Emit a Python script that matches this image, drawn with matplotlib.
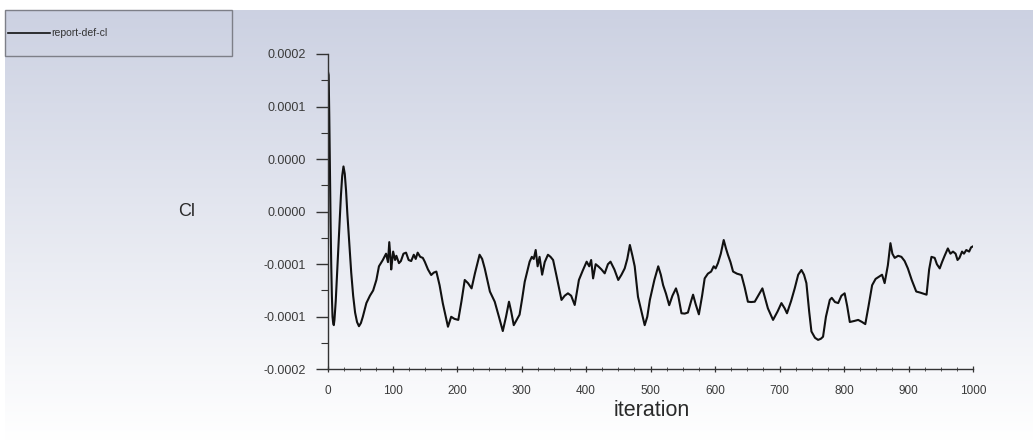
import numpy as np
import matplotlib
matplotlib.use("Agg")
import matplotlib.pyplot as plt
from matplotlib.patches import Rectangle
from matplotlib.lines import Line2D
from matplotlib.ticker import FixedLocator, FixedFormatter, MultipleLocator

# ---- data (values in units of 1e-5) ----
iterations = [0, 1, 2, 3, 4, 5, 6, 7, 8, 9, 10, 12, 14, 16, 18, 20, 22, 24, 26, 28,
              30, 33, 36, 39, 42, 45, 48, 51, 54, 59.5, 65, 70, 75,
              79, 85, 90, 93, 95, 97, 98, 101, 104, 106, 110, 113, 117, 121, 125, 129, 133, 136, 139, 143,
              147, 150, 155, 160, 164, 168, 173, 178, 186, 191, 196, 202, 207, 212, 217, 222.6, 227.8, 235, 239, 243,
              251, 258.5, 265, 271, 276, 280.6, 284, 288, 297, 301, 305, 312.6, 316, 319, 322, 325, 328, 332, 336, 341,
              345, 349, 354, 362, 367, 372, 377, 382.5, 389, 395, 401, 405, 408, 411, 415, 419, 424, 429, 434, 438,
              444, 450, 455, 460, 464, 468, 472, 475.5, 480.6, 486, 491, 495, 499, 506, 512, 516, 519.6, 524, 529, 534,
              539.5, 543, 548, 553, 558, 563, 566, 570, 575, 580, 584, 589, 594, 598, 601, 604.6, 609, 613.5, 617, 620,
              624, 628, 634, 641, 646, 651, 656, 661.6, 667, 673.5, 678, 682, 690, 697, 703, 708, 711.6, 718, 723.6, 729,
              734, 738, 741.7, 746, 749.5, 755, 759.8, 764, 767.5, 772, 778, 781, 786, 791, 796, 801, 805, 809, 816, 822,
              828, 833, 838, 843.6, 849, 854, 859, 863, 866, 868, 872, 875, 878.6, 884, 889, 894, 899, 905, 912, 918,
              923, 928, 932, 935.6, 940.6, 944, 948.4, 952, 956, 961, 965, 969, 973, 976, 979, 983, 986, 989.6, 994, 997,
              1000]
cl_e5 = [13.3, 13.0, 9.0, 4.0, -1.0, -5.0, -8.0, -10.0, -10.6, -10.8, -10.3, -8.5, -6.0, -3.5, -0.8, 1.5, 3.4, 4.3, 3.6, 2.0,
         -0.2, -3.0, -5.8, -8.0, -9.6, -10.5, -10.9, -10.6, -10.0, -8.7, -8.0, -7.5, -6.5,
         -5.2, -4.6, -4.0, -4.8, -2.9, -4.5, -5.5, -3.8, -4.6, -4.2, -4.9, -4.7, -4.0, -3.9, -4.6, -4.7, -4.1, -4.5, -3.9, -4.3,
         -4.4, -4.76, -5.5, -6.03, -5.8, -5.7, -7.0, -8.72, -10.95, -10.0, -10.2, -10.3, -8.5, -6.5, -6.8, -7.3, -5.87, -4.1, -4.5, -5.4,
         -7.6, -8.57, -10.0, -11.36, -10.0, -8.57, -9.5, -10.8, -9.8, -8.3, -6.67, -4.76, -4.3, -4.5, -3.65, -5.2, -4.3, -6.0, -4.8, -4.1,
         -4.3, -4.6, -6.03, -8.4, -8.0, -7.77, -8.0, -8.88, -6.5, -5.6, -4.76, -5.2, -4.6, -6.35, -5.0, -5.2, -5.5, -5.87, -5.0, -4.76,
         -5.5, -6.5, -6.0, -5.4, -4.5, -3.17, -4.2, -5.2, -8.1, -9.5, -10.8, -10.0, -8.4, -6.5, -5.2, -6.0, -7.0, -7.8, -8.9, -8.0,
         -7.3, -8.0, -9.67, -9.7, -9.6, -8.5, -7.9, -8.8, -9.77, -8.0, -6.35, -5.9, -5.7, -5.2, -5.4, -4.9, -4.0, -2.7, -3.5, -4.1,
         -4.8, -5.7, -5.9, -6.03, -7.2, -8.57, -8.6, -8.57, -8.0, -7.3, -8.3, -9.2, -10.3, -9.5, -8.7, -9.2, -9.67, -8.5, -7.3, -6.0,
         -5.55, -6.0, -6.8, -9.5, -11.4, -12.0, -12.2, -12.1, -11.9, -10.0, -8.4, -8.2, -8.6, -8.7, -8.0, -7.77, -9.0, -10.5, -10.4, -10.3,
         -10.5, -10.7, -9.0, -7.0, -6.4, -6.2, -6.0, -6.8, -5.8, -5.1, -3.0, -4.0, -4.4, -4.2, -4.3, -4.7, -5.4, -6.5, -7.6, -7.7,
         -7.8, -7.9, -5.5, -4.3, -4.4, -5.0, -5.4, -4.8, -4.2, -3.5, -4.0, -3.8, -4.0, -4.6, -4.4, -3.8, -4.0, -3.65, -3.8, -3.4,
         -3.3]

ytick_values = [15e-5, 10e-5, 5e-5, 0.0, -5e-5, -10e-5, -15e-5]
ytick_labels = ["0.0002", "0.0001", "0.0000", "0.0000", "-0.0001", "-0.0001", "-0.0002"]
xtick_values = [0, 100, 200, 300, 400, 500, 600, 700, 800, 900, 1000]
series_name = "report-def-cl"

cl = np.array(cl_e5) * 1e-5

W, H = 1033, 441
fig = plt.figure(figsize=(W / 100, H / 100), dpi=100)
fig.patch.set_facecolor("white")

# gradient background panel
bg = fig.add_axes([5 / W, 0, 1 - 5 / W, (H - 10) / H], zorder=0)
top = np.array([0.800, 0.820, 0.886])
bot = np.array([1.0, 1.0, 1.0])
t = np.linspace(0, 1, 256)[:, None]
grad = top[None, :] * (1 - t) + bot[None, :] * t
bg.imshow(grad[:, None, :], aspect="auto", extent=[0, 1, 0, 1], origin="upper")
bg.set_axis_off()

ax = fig.add_axes([328 / W, (H - 369.3) / H, (973 - 328) / W, (369.3 - 54) / H], zorder=2)
ax.patch.set_alpha(0)
ax.plot(iterations, cl, color="#111111", lw=1.5, solid_joinstyle="round")
ax.set_xlim(0, 1000)
ax.set_ylim(-15e-5, 15e-5)

for s in ["top", "right"]:
    ax.spines[s].set_visible(False)
for s in ["left", "bottom"]:
    ax.spines[s].set_color("#333333")
    ax.spines[s].set_linewidth(1.0)

ax.yaxis.set_major_locator(FixedLocator(ytick_values))
ax.yaxis.set_major_formatter(FixedFormatter(ytick_labels))
ax.yaxis.set_minor_locator(MultipleLocator(2.5e-5))
ax.xaxis.set_major_locator(FixedLocator(xtick_values))
ax.xaxis.set_minor_locator(MultipleLocator(25))

ax.tick_params(axis="y", which="major", direction="out", length=8.4, width=1.0, color="#333333",
               pad=7.5, labelsize=9, labelcolor="#3a3a3a")
ax.tick_params(axis="y", which="minor", direction="out", length=4.8, width=0.8, color="#333333")
ax.tick_params(axis="x", which="major", direction="inout", length=4, width=0.9, color="#333333",
               pad=9, labelsize=8.5, labelcolor="#3a3a3a")
ax.tick_params(axis="x", which="minor", direction="inout", length=2.5, width=0.7, color="#555555")
for lbl in ax.get_xticklabels() + ax.get_yticklabels():
    lbl.set_family("Liberation Sans")

fig.text(186.5 / W, 1 - 211 / H, "Cl", ha="center", va="center", fontsize=13,
         color="#2a2a2a", family="Liberation Sans")
fig.text(651.7 / W, 1 - 411 / H, "iteration", ha="center", va="center", fontsize=15.5,
         color="#2a2a2a", family="Liberation Sans")

# legend box
fig.patches.append(Rectangle((5 / W, 1 - 56 / H), (232 - 5) / W, (56 - 10) / H,
                             transform=fig.transFigure, fill=False, edgecolor="#7d7f88",
                             linewidth=1.0, zorder=3))
fig.lines.append(Line2D([8 / W, 50 / W], [1 - 32.7 / H, 1 - 32.7 / H], transform=fig.transFigure,
                        color="#111111", lw=1.2, zorder=3))
fig.text(51.5 / W, 1 - 32.7 / H, series_name, ha="left", va="center", fontsize=7.5,
         color="#333333", family="Liberation Sans", zorder=3)

fig.savefig("out.png", dpi=100)
